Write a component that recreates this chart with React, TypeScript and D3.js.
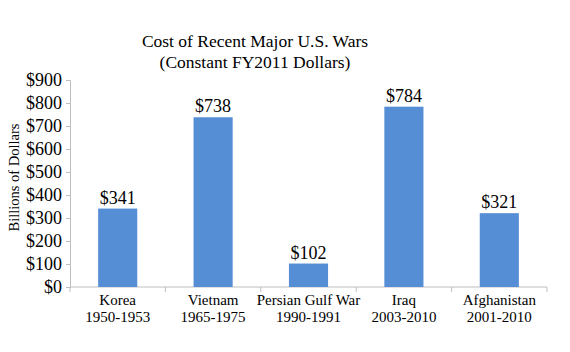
import { useEffect, useRef } from 'react';
import * as d3 from 'd3';

const wars = ['Korea', 'Vietnam', 'Persian Gulf War', 'Iraq', 'Afghanistan'];
const periods = ['1950-1953', '1965-1975', '1990-1991', '2003-2010', '2001-2010'];
const costs = [341, 738, 102, 784, 321];
const yTicks = [0, 100, 200, 300, 400, 500, 600, 700, 800, 900];

const App = () => {
  const chartRef = useRef<SVGSVGElement>(null);

  useEffect(() => {
    if (!chartRef.current) return;
    d3.select(chartRef.current).selectAll('*').remove();

    const fontFamily = 'Liberation Serif, DejaVu Serif, serif';
    const margin = { top: 80, right: 23, bottom: 65, left: 70 };
    const totalW = 570;
    const totalH = 352;
    const width = totalW - margin.left - margin.right;
    const height = totalH - margin.top - margin.bottom;

    const svg = d3.select(chartRef.current)
      .attr('width', totalW)
      .attr('height', totalH)
      .attr('font-family', fontFamily)
      .style('display', 'block')
      .style('background', '#fff');

    const g = svg.append('g')
      .attr('transform', `translate(${margin.left},${margin.top})`);

    const x = d3.scaleBand()
      .domain(wars)
      .range([0, width])
      .paddingInner(0.59)
      .paddingOuter(0.295);

    const y = d3.scaleLinear()
      .domain([0, 900])
      .range([height, 0]);

    // Y axis
    const yAxis = g.append('g')
      .call(d3.axisLeft(y).tickValues(yTicks).tickSize(4).tickPadding(4)
        .tickFormat(d => `$${d}`));
    yAxis.attr('font-family', fontFamily).attr('font-size', 18);
    yAxis.select('.domain').attr('stroke', '#bfbfbf');
    yAxis.selectAll('.tick line').attr('stroke', '#bfbfbf');
    yAxis.selectAll('.tick text').attr('fill', '#000');

    // X axis
    const xAxis = g.append('g')
      .attr('transform', `translate(0,${height})`);
    xAxis.append('line')
      .attr('x1', 0).attr('x2', width)
      .attr('stroke', '#bfbfbf');
    const step = x.step();
    const boundaries = d3.range(wars.length + 1).map(i => i * step);
    xAxis.selectAll('.xtick')
      .data(boundaries)
      .enter()
      .append('line')
      .attr('x1', d => d).attr('x2', d => d)
      .attr('y1', 0).attr('y2', 5)
      .attr('stroke', '#bfbfbf');

    const labels = xAxis.selectAll('.xlabel')
      .data(wars)
      .enter()
      .append('text')
      .attr('x', d => (x(d) || 0) + x.bandwidth() / 2)
      .attr('text-anchor', 'middle')
      .attr('font-size', 15)
      .attr('fill', '#000');
    labels.append('tspan')
      .attr('x', d => (x(d) || 0) + x.bandwidth() / 2)
      .attr('y', 18)
      .text(d => d);
    labels.append('tspan')
      .attr('x', d => (x(d) || 0) + x.bandwidth() / 2)
      .attr('y', 35)
      .text((d, i) => periods[i]);

    // Bars
    g.selectAll('.bar')
      .data(costs)
      .enter()
      .append('rect')
      .attr('x', (d, i) => x(wars[i]) || 0)
      .attr('y', d => y(d))
      .attr('width', x.bandwidth())
      .attr('height', d => height - y(d))
      .attr('fill', '#558ed5');

    // Bar labels
    g.selectAll('.bar-label')
      .data(costs)
      .enter()
      .append('text')
      .attr('x', (d, i) => (x(wars[i]) || 0) + x.bandwidth() / 2)
      .attr('y', d => y(d) - 5)
      .attr('text-anchor', 'middle')
      .attr('font-size', 18)
      .attr('fill', '#000')
      .text(d => `$${d}`);

    // Title
    const title = svg.append('text')
      .attr('text-anchor', 'middle')
      .attr('font-size', 17.5)
      .attr('fill', '#000');
    title.append('tspan').attr('x', 255).attr('y', 47).text('Cost of Recent Major U.S. Wars');
    title.append('tspan').attr('x', 255).attr('y', 68).text('(Constant FY2011 Dollars)');

    // Y label
    svg.append('text')
      .attr('transform', `translate(19,${margin.top + height / 2 - 6}) rotate(-90)`)
      .attr('text-anchor', 'middle')
      .attr('font-size', 14.5)
      .attr('fill', '#000')
      .text('Billions of Dollars');
  }, []);

  return (
    <div style={{ position: 'absolute', left: 0, top: 0 }}>
      <svg ref={chartRef} />
    </div>
  );
};

export default App;
